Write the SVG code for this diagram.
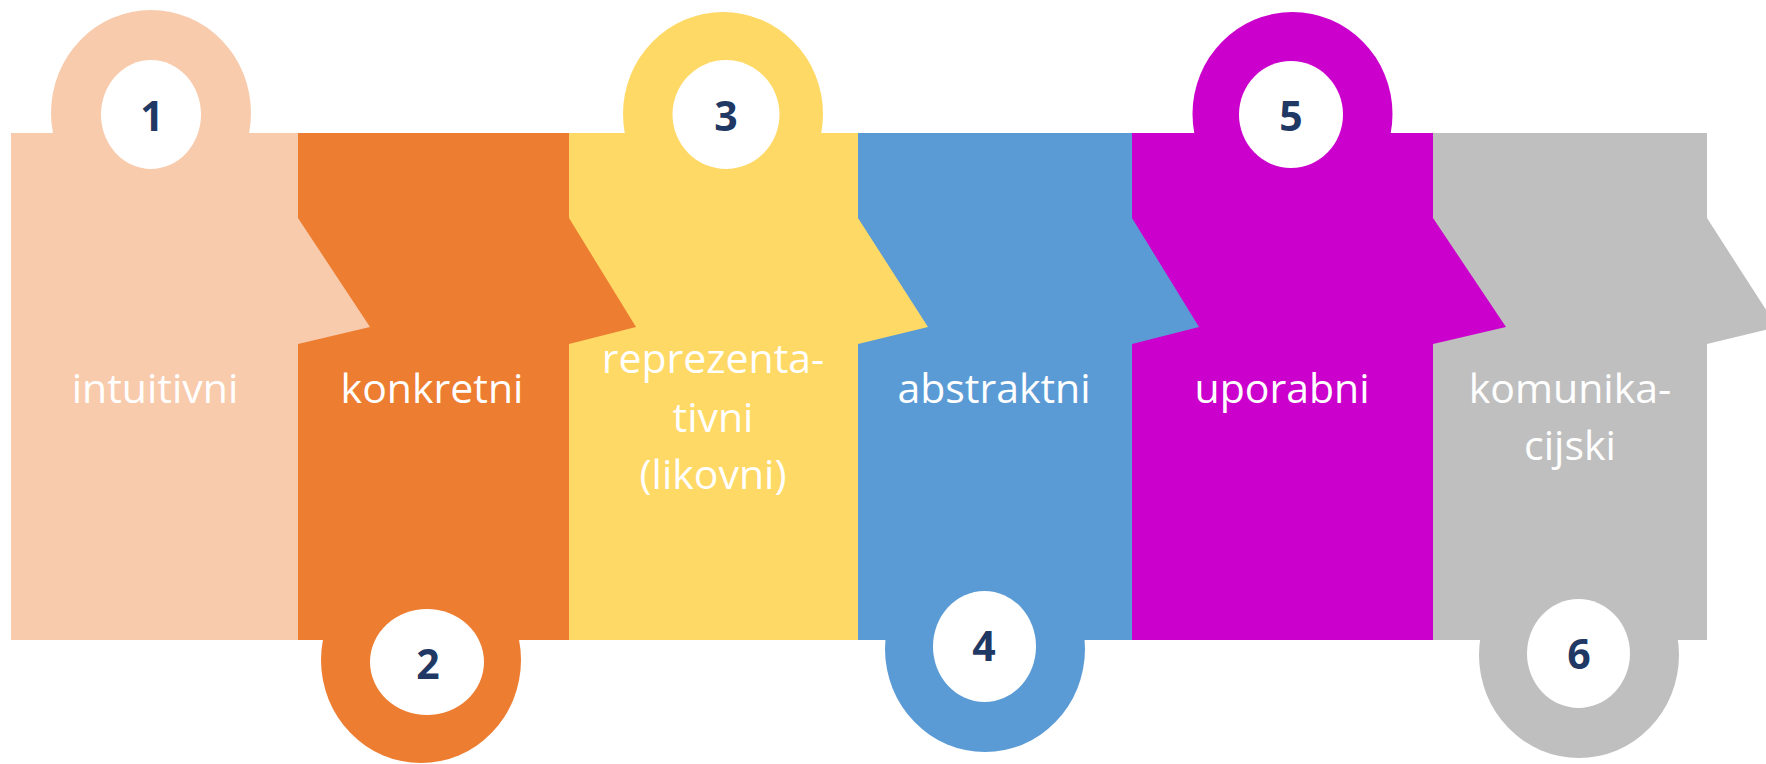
<svg xmlns="http://www.w3.org/2000/svg" width="1766" height="764" viewBox="0 0 1766 764">
<style>
.lbl{font-family:"Open Sans","Liberation Sans",sans-serif;font-size:41px;fill:#FFFFFF;text-anchor:middle}
.num{font-family:"Open Sans","Liberation Sans",sans-serif;font-size:41px;font-weight:700;fill:#1F3864;text-anchor:middle}
.hole{fill:#FFFFFF}
</style>
<rect width="1766" height="764" fill="#FFFFFF"/>
<g id="node6" fill="#BFBFBF">
<polygon points="1433,133 1707,133 1707,218 1777,327 1707,344 1707,640 1433,640"/>
<ellipse cx="1579" cy="655" rx="100" ry="103"/>
<ellipse class="hole" cx="1578.5" cy="653.5" rx="51.5" ry="54.5"/>
<text class="num" x="1579" y="669">6</text>
<text class="lbl" x="1570" y="403">komunika-</text>
<text class="lbl" x="1570" y="460">cijski</text>
</g>
<g id="node5" fill="#CC00CC">
<polygon points="1132,133 1433,133 1433,218 1506,327 1433,344 1433,640 1132,640"/>
<ellipse cx="1292.5" cy="114" rx="100" ry="102"/>
<ellipse class="hole" cx="1291" cy="114.5" rx="52" ry="53.5"/>
<text class="num" x="1291" y="131">5</text>
<text class="lbl" x="1282" y="403">uporabni</text>
</g>
<g id="node4" fill="#5B9BD5">
<polygon points="858,133 1132,133 1132,218 1199,327 1132,344 1132,640 858,640"/>
<ellipse cx="985" cy="649" rx="100" ry="103"/>
<ellipse class="hole" cx="984.5" cy="646.5" rx="51.5" ry="55.5"/>
<text class="num" x="984" y="661">4</text>
<text class="lbl" x="994" y="403">abstraktni</text>
</g>
<g id="node3" fill="#FFD966">
<polygon points="569,133 858,133 858,218 928,327 858,344 858,640 569,640"/>
<ellipse cx="723" cy="114" rx="100" ry="102"/>
<ellipse class="hole" cx="726" cy="114.5" rx="53.5" ry="54.5"/>
<text class="num" x="726" y="131">3</text>
<text class="lbl" x="713" y="373">reprezenta-</text>
<text class="lbl" x="713" y="432">tivni</text>
<text class="lbl" x="713" y="489">(likovni)</text>
</g>
<g id="node2" fill="#ED7D31">
<polygon points="298,133 569,133 569,218 636,327 569,344 569,640 298,640"/>
<ellipse cx="421" cy="660" rx="100" ry="103"/>
<ellipse class="hole" cx="427" cy="662" rx="57" ry="53"/>
<text class="num" x="428" y="679">2</text>
<text class="lbl" x="432" y="403">konkretni</text>
</g>
<g id="node1" fill="#F8CBAD">
<polygon points="11,133 298,133 298,218 370,327 298,344 298,640 11,640"/>
<ellipse cx="151" cy="113" rx="100" ry="103"/>
<ellipse class="hole" cx="151" cy="114.5" rx="50" ry="54.5"/>
<text class="num" x="152" y="131">1</text>
<text class="lbl" x="155" y="403">intuitivni</text>
</g>
</svg>
